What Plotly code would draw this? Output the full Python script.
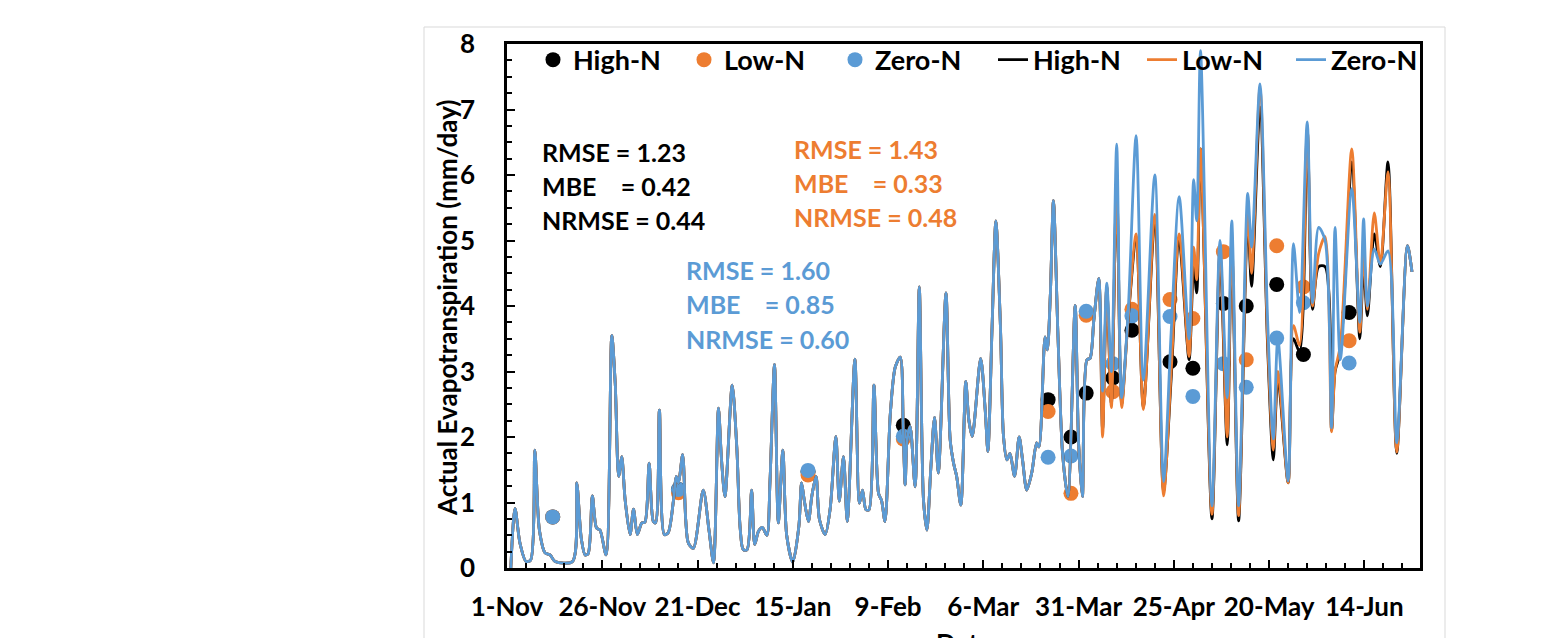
import plotly.graph_objects as go

# ---------------- data ----------------
# x values are days since 1-Nov
tick_days = [0, 25, 50, 75, 100, 125, 150, 175, 200, 225]
tick_labels = ["1-Nov", "26-Nov", "21-Dec", "15-Jan", "9-Feb", "6-Mar",
               "31-Mar", "25-Apr", "20-May", "14-Jun"]

# part of the simulated series where the three treatments coincide
common_days = [1.0, 2.1, 3.4, 5.0, 6.2, 7.3, 8.5, 10.0, 11.3, 12.6, 17.2, 18.3, 19.5,
               20.5, 21.3, 22.4, 23.5, 24.4, 26.0, 27.5, 28.4, 29.3, 30.1, 31.0, 32.3,
               33.2, 34.2, 35.4, 36.2, 37.3, 38.4, 39.0, 40.0, 41.3, 42.3, 43.7, 44.4,
               45.0, 46.1, 46.9, 47.6, 48.9, 51.5, 53.0, 54.2, 55.5, 56.3, 57.2, 59.1,
               60.3, 61.2, 62.0, 63.0, 64.2, 65.0, 66.0, 67.0, 68.2, 69.0, 70.2, 71.2,
               72.4, 73.4, 75.0, 76.6, 77.3, 78.0, 79.1, 80.0, 81.1, 82.0, 83.5, 84.8,
               86.3, 87.2, 88.3, 89.3, 91.3, 92.5, 93.3, 94.2, 95.0, 96.3, 97.5, 98.3,
               99.2, 100.6, 101.9, 103.2, 104.0, 104.5, 105.0, 105.8, 107.1, 108.2,
               109.3, 110.2, 111.2, 112.2, 113.2, 115.2, 116.3, 117.2, 118.0, 119.1,
               120.4, 121.2, 122.1, 124.3, 125.5, 126.2, 127.3, 128.3, 129.5, 130.3,
               131.2, 132.0, 133.2, 134.4, 135.3, 136.4, 137.7, 139.0, 139.6, 141.2,
               141.8, 142.6, 143.4, 144.6, 145.8, 147.2, 149.1, 150.0, 151.0, 152.2,
               153.0, 154.0, 155.3]
common_et = [0.00, 0.91, 0.38, 0.10, 0.12, 1.80, 0.58, 0.23, 0.20, 0.10, 0.10, 1.30, 0.45,
             0.20, 0.22, 1.10, 0.61, 0.58, 0.20, 3.55, 2.82, 1.40, 1.70, 1.04, 0.51,
             0.90, 0.51, 0.69, 0.70, 1.60, 0.71, 0.69, 2.41, 0.51, 0.54, 1.04, 1.40,
             1.30, 1.73, 0.74, 0.38, 0.30, 1.19, 0.58, 0.08, 2.44, 1.65, 1.09, 2.79,
             1.85, 0.60, 0.28, 0.28, 1.19, 0.36, 0.56, 0.62, 0.50, 1.30, 3.11, 0.69,
             1.80, 0.50, 0.09, 0.64, 1.30, 1.04, 0.71, 1.10, 1.40, 0.74, 0.51, 0.90,
             2.01, 1.02, 1.70, 0.71, 3.19, 0.99, 1.19, 0.89, 0.89, 2.79, 1.14, 1.03,
             0.71, 2.36, 3.07, 3.22, 2.06, 1.27, 1.96, 2.16, 1.24, 4.29,
             1.04, 0.58, 1.50, 2.30, 1.45, 4.20, 1.96, 1.60, 1.40, 0.96,
             2.85, 2.26, 2.01, 3.20, 2.41, 1.78, 3.68, 5.30, 3.68, 2.01,
             1.65, 1.75, 1.40, 2.00, 1.65, 1.19, 1.45, 1.91, 1.85, 3.53,
             3.33, 4.19, 5.61, 3.53, 1.75, 1.09, 4.01, 1.91, 1.09, 3.18,
             3.20, 3.78, 4.42]

# part where the treatments differ
late_days = [156.3, 157.4, 158.6, 160.0, 161.3, 163.0, 165.1, 167.0, 170.0, 172.3,
             174.3, 176.4, 179.0, 180.2, 181.0, 182.0, 185.0, 187.1, 189.0, 190.2,
             192.0, 194.4, 195.4, 197.6, 199.6, 201.1, 202.3, 205.0, 206.4, 208.0,
             210.0, 211.4, 213.0, 214.7, 216.4, 217.3, 218.7, 221.7, 223.8, 224.8,
             225.8, 227.6, 229.2, 231.2, 233.5, 236.3, 237.5]
high_late = [2.10, 4.30, 2.50, 5.85, 2.50, 3.80, 5.00, 2.45, 5.30, 1.16,
             2.90, 5.00, 3.18, 4.60, 4.20, 6.40, 0.75, 4.80, 1.88, 4.90,
             0.72, 5.30, 4.30, 7.04, 3.40, 1.65, 2.90, 1.30, 3.50, 3.30,
             6.70, 3.95, 4.60, 4.60, 2.10, 3.00, 3.30, 6.20, 3.50, 4.60,
             3.85, 5.10, 4.60, 6.20, 1.75, 4.92, 4.52]
low_late = [2.00, 4.30, 2.45, 5.90, 2.45, 3.80, 5.10, 2.42, 5.40, 1.10,
            3.00, 5.10, 3.23, 4.90, 4.40, 6.40, 0.82, 4.90, 2.00, 5.00,
            0.80, 5.40, 4.50, 7.34, 3.50, 1.80, 3.00, 1.30, 3.70, 3.40,
            6.70, 4.00, 4.80, 5.06, 2.08, 3.00, 3.40, 6.40, 3.60, 4.80,
            3.95, 5.42, 4.64, 6.05, 1.77, 4.92, 4.52]
zero_late = [2.70, 4.35, 3.00, 6.47, 2.60, 3.90, 6.60, 2.87, 6.00, 1.32,
             3.60, 5.67, 3.50, 5.93, 5.30, 7.90, 0.95, 5.00, 2.60, 5.30,
             0.95, 5.72, 4.90, 7.39, 3.80, 1.97, 3.50, 1.33, 4.95, 3.90,
             6.81, 4.05, 5.20, 5.00, 2.14, 5.20, 3.18, 5.79, 3.75, 5.33,
             4.00, 4.87, 4.64, 4.84, 1.91, 4.92, 4.52]

# observed values
obs_days = [12, 45, 79, 104, 142, 148, 152, 159, 164, 174, 180, 188, 194, 202, 209, 221]
obs_high = [0.78, 1.20, 1.47, 2.18, 2.57, 2.00, 2.67, 2.90, 3.63, 3.15, 3.05, 4.04, 4.00, 4.33, 3.26, 3.90]
obs_low = [0.78, 1.15, 1.42, 1.97, 2.39, 1.14, 3.86, 2.69, 3.95, 4.10, 3.81, 4.83, 3.18, 4.92, 4.29, 3.47]
obs_zero = [0.78, 1.20, 1.49, 2.01, 1.69, 1.71, 3.92, 3.12, 3.85, 3.84, 2.62, 3.12, 2.76, 3.51, 4.05, 3.13]

series_names = ["High-N", "Low-N", "Zero-N"]
series_colors = ["#000000", "#ED7D31", "#5B9BD5"]

stats_text = {
    "High-N": ["RMSE = 1.23", "MBE\u00a0\u00a0\u00a0\u00a0= 0.42", "NRMSE = 0.44"],
    "Low-N": ["RMSE = 1.43", "MBE\u00a0\u00a0\u00a0\u00a0= 0.33", "NRMSE = 0.48"],
    "Zero-N": ["RMSE = 1.60", "MBE\u00a0\u00a0\u00a0\u00a0= 0.85", "NRMSE = 0.60"],
}

# ---------------- layout geometry (pixels) ----------------
W, H = 1546, 638
PL, PR, PT, PB = 507, 1420, 44, 568
pw, ph = PR - PL, PB - PT


def px(x):
    return (x - PL) / pw


def py(y):
    return (PB - y) / ph


FONT = "Lato"

fig = go.Figure()

obs_sets = [obs_high, obs_low, obs_zero]
for name, col, vals in zip(series_names, series_colors, obs_sets):
    fig.add_trace(go.Scatter(
        x=obs_days, y=vals, mode="markers", name=name, legend="legend",
        marker=dict(color=col, size=15, line=dict(width=0)),
    ))

late_sets = [high_late, low_late, zero_late]
for name, col, late in zip(series_names, series_colors, late_sets):
    fig.add_trace(go.Scatter(
        x=common_days + late_days, y=common_et + late, mode="lines", name=name,
        legend="legend2",
        line=dict(color=col, width=2.8, shape="spline", smoothing=0.8),
    ))

axis_font = dict(family=FONT, size=26, color="black", weight="bold")

fig.update_xaxes(
    range=[0, 239.6], tickmode="array", tickvals=tick_days, ticktext=tick_labels,
    ticks="inside", ticklen=8, tickwidth=2, tickcolor="black",
    minor=dict(dtick=5, tick0=0, ticks="inside", ticklen=5, tickwidth=2, tickcolor="black", showgrid=False),
    showline=True, linecolor="black", linewidth=2.5, mirror=True,
    showgrid=False, zeroline=False, tickfont=axis_font, ticklabelstandoff=14,
)
fig.update_yaxes(
    range=[0, 8], dtick=1, tick0=0,
    ticks="inside", ticklen=8, tickwidth=2, tickcolor="black",
    minor=dict(dtick=0.25, tick0=0, ticks="inside", ticklen=5, tickwidth=2, tickcolor="black", showgrid=False),
    showline=True, linecolor="black", linewidth=2.5, mirror=True,
    showgrid=False, zeroline=False, tickfont=axis_font, ticklabelstandoff=24,
)

annotations = []
stat_pos = {"High-N": (543, [152, 186, 220]),
            "Low-N": (795, [149, 183, 217]),
            "Zero-N": (687, [270, 304, 339])}
for name, col in zip(series_names, series_colors):
    x0, ys = stat_pos[name]
    for t, yy in zip(stats_text[name], ys):
        annotations.append(dict(
            x=px(x0), y=py(yy), xref="paper", yref="paper", text=t, showarrow=False,
            xanchor="left", yanchor="middle", xshift=-3,
            font=dict(family=FONT, size=25, color=col, weight="bold"),
        ))

annotations.append(dict(
    x=px(447), y=py(308), xref="paper", yref="paper",
    text="Actual Evapotranspiration (mm/day)", textangle=-90, showarrow=False,
    xanchor="center", yanchor="middle",
    font=dict(family=FONT, size=26, color="black", weight="bold"),
))
annotations.append(dict(
    x=0.5, y=py(625), xref="paper", yref="paper", text="Date", showarrow=False,
    xanchor="center", yanchor="top",
    font=dict(family=FONT, size=26, color="black", weight="bold"),
))

shapes = [dict(type="rect", xref="paper", yref="paper",
               x0=px(424), x1=px(1445), y0=py(660), y1=py(27),
               line=dict(color="#D9D9D9", width=1), fillcolor="rgba(0,0,0,0)", layer="below")]

legend_font = dict(family=FONT, size=27, color="black", weight="bold")
fig.update_layout(
    width=W, height=H, autosize=False,
    margin=dict(l=PL, r=W - PR, t=PT, b=H - PB, pad=0),
    paper_bgcolor="white", plot_bgcolor="white",
    showlegend=True,
    legend=dict(orientation="h", x=px(533), xanchor="left", y=1.016, yanchor="top",
                font=legend_font, bgcolor="rgba(0,0,0,0)",
                entrywidth=106, entrywidthmode="pixels", itemwidth=30),
    legend2=dict(orientation="h", x=px(993), xanchor="left", y=1.016, yanchor="top",
                 font=legend_font, bgcolor="rgba(0,0,0,0)",
                 entrywidth=104, entrywidthmode="pixels", itemwidth=30),
    annotations=annotations, shapes=shapes,
)

fig.write_html("out.html")
